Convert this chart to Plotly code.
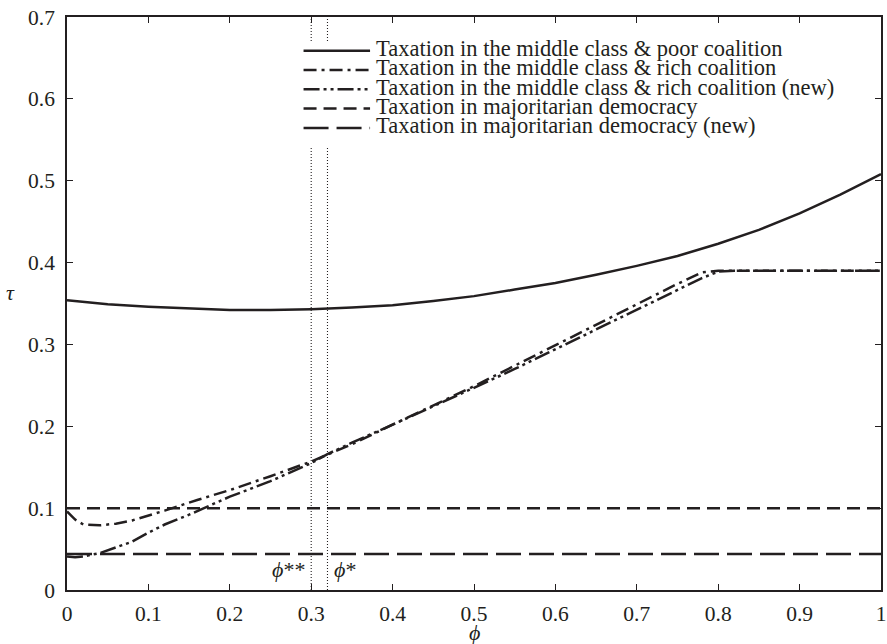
import plotly.graph_objects as go

# ---------------- data ----------------
phi_poor = [0.0, 0.05, 0.1, 0.15, 0.2, 0.25, 0.3, 0.35, 0.4, 0.45, 0.5, 0.55,
            0.6, 0.65, 0.7, 0.75, 0.8, 0.85, 0.9, 0.95, 1.0]
tau_poor = [0.354, 0.349, 0.346, 0.344, 0.342, 0.342, 0.343, 0.345, 0.348, 0.353,
            0.359, 0.367, 0.375, 0.385, 0.396, 0.408, 0.423, 0.440, 0.460, 0.483, 0.508]

phi_rich = [0.0, 0.01, 0.02, 0.04, 0.06, 0.08, 0.12, 0.16, 0.2, 0.25, 0.3, 0.35,
            0.4, 0.45, 0.5, 0.55, 0.6, 0.65, 0.7, 0.75, 0.78, 0.8, 0.9, 1.0]
tau_rich = [0.096, 0.086, 0.080, 0.079, 0.081, 0.085, 0.097, 0.110, 0.122, 0.139,
            0.157, 0.178, 0.202, 0.225, 0.249, 0.274, 0.299, 0.325, 0.350, 0.374,
            0.388, 0.390, 0.390, 0.390]

phi_rich_new = [0.0, 0.01, 0.02, 0.04, 0.06, 0.08, 0.1, 0.12, 0.15, 0.2, 0.25, 0.3,
                0.32, 0.35, 0.4, 0.45, 0.5, 0.55, 0.6, 0.65, 0.7, 0.75, 0.78, 0.8,
                0.82, 0.9, 1.0]
tau_rich_new = [0.041, 0.040, 0.041, 0.045, 0.052, 0.059, 0.070, 0.080, 0.092, 0.114,
                0.133, 0.155, 0.166, 0.180, 0.202, 0.225, 0.247, 0.270, 0.294, 0.318,
                0.343, 0.367, 0.381, 0.389, 0.390, 0.390, 0.390]

phi_maj = [0.0, 1.0]
tau_maj = [0.1, 0.1]
tau_maj_new = [0.044, 0.044]

phi_star2 = 0.30   # phi**
phi_star = 0.32    # phi*

x_range = [0, 1]
y_range = [0, 0.7]
x_ticks = [0, 0.1, 0.2, 0.3, 0.4, 0.5, 0.6, 0.7, 0.8, 0.9, 1.0]
x_tick_labels = ["0", "0.1", "0.2", "0.3", "0.4", "0.5", "0.6", "0.7", "0.8", "0.9", "1"]
y_ticks = [0, 0.1, 0.2, 0.3, 0.4, 0.5, 0.6, 0.7]
y_tick_labels = ["0", "0.1", "0.2", "0.3", "0.4", "0.5", "0.6", "0.7"]

legend_labels = [
    "Taxation in the middle class & poor coalition",
    "Taxation in the middle class & rich coalition",
    "Taxation in the middle class & rich coalition (new)",
    "Taxation in majoritarian democracy",
    "Taxation in majoritarian democracy (new)",
]

# ---------------- styles ----------------
INK = "#231f20"
FONT = "Liberation Serif, Times New Roman, DejaVu Serif, serif"
LW = 2.5
dashes = ["solid", "13px,5px,3px,5px", "16px,4px,3px,4px,3px,4px", "13px,7px", "25px,8px"]

series = [
    (phi_poor, tau_poor),
    (phi_rich, tau_rich),
    (phi_rich_new, tau_rich_new),
    (phi_maj, tau_maj),
    (phi_maj, tau_maj_new),
]

fig = go.Figure()

# vertical dotted reference lines
for p in (phi_star2, phi_star):
    fig.add_trace(go.Scatter(x=[p, p], y=y_range, mode="lines",
                             line=dict(color=INK, width=1.1, dash="1px,2px"),
                             showlegend=False, hoverinfo="skip"))

for (xs, ys), name, d in zip(series, legend_labels, dashes):
    fig.add_trace(go.Scatter(x=xs, y=ys, mode="lines", name=name,
                             line=dict(color=INK, width=LW, dash=d),
                             showlegend=False))

# ---------------- manual legend ----------------
shapes = [dict(type="rect", xref="paper", yref="paper", x0=0.282, x1=0.99,
               y0=0.775, y1=0.955, fillcolor="white", line=dict(width=0),
               layer="above")]
annotations = []
row_y = [0.9412, 0.9075, 0.8738, 0.8401, 0.8063]
for yy, name, d in zip(row_y, legend_labels, dashes):
    shapes.append(dict(type="line", xref="paper", yref="paper", x0=0.2906, x1=0.3723,
                       y0=yy, y1=yy, line=dict(color=INK, width=LW, dash=d),
                       layer="above"))
    annotations.append(dict(xref="paper", yref="paper", x=0.3775, y=yy + 0.004,
                            xanchor="left", yanchor="middle", text=name,
                            showarrow=False, font=dict(family=FONT, size=22.5, color=INK)))

# phi labels
annotations.append(dict(x=phi_star2, y=0.025, xref="x", yref="y", xanchor="right",
                        yanchor="middle", xshift=-4, text="<i>ϕ</i>**", showarrow=False,
                        font=dict(family=FONT, size=22, color=INK)))
annotations.append(dict(x=phi_star, y=0.025, xref="x", yref="y", xanchor="left",
                        yanchor="middle", xshift=5, text="<i>ϕ</i>*", showarrow=False,
                        font=dict(family=FONT, size=22, color=INK)))
# axis titles
annotations.append(dict(x=0.5, y=-0.074, xref="paper", yref="paper", xanchor="center",
                        yanchor="middle", text="<i>ϕ</i>", showarrow=False,
                        font=dict(family=FONT, size=22, color=INK)))
annotations.append(dict(x=-0.069, y=0.52, xref="paper", yref="paper", xanchor="center",
                        yanchor="middle", text="<i>τ</i>", showarrow=False,
                        font=dict(family=FONT, size=22, color=INK)))

axis_common = dict(showgrid=False, zeroline=False, showline=True, linecolor=INK,
                   linewidth=1.5, mirror="ticks", ticks="inside", ticklen=6,
                   tickwidth=1.2, tickcolor=INK, ticklabeloverflow="allow",
                   tickfont=dict(family=FONT, size=21.5, color=INK))

fig.update_layout(
    width=887, height=644,
    margin=dict(l=67, r=1, t=17, b=54),
    plot_bgcolor="white", paper_bgcolor="white",
    xaxis=dict(range=x_range, tickvals=x_ticks, ticktext=x_tick_labels,
               ticklabelstandoff=3, **axis_common),
    yaxis=dict(range=y_range, tickvals=y_ticks, ticktext=y_tick_labels,
               ticklabelstandoff=6, **axis_common),
    shapes=shapes,
    annotations=annotations,
    showlegend=False,
)

fig.write_html("out.html")
